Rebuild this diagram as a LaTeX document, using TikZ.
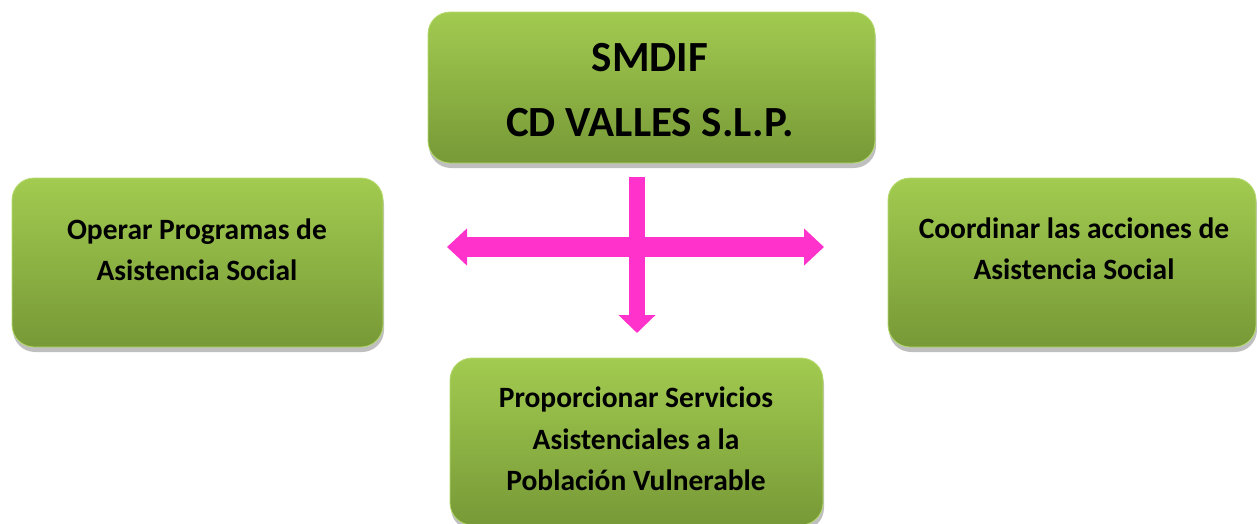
\documentclass[tikz,border=0pt]{standalone}
\usepackage{fontspec}
\setmainfont{Carlito}
\usetikzlibrary{arrows.meta,shadows}
\definecolor{gtop}{HTML}{A2CB50}
\definecolor{gbot}{HTML}{779937}
\definecolor{gedge}{HTML}{B5DA6E}
\definecolor{pinkarrow}{HTML}{FF33CC}
\tikzset{
  box/.style={rounded corners=22pt, top color=gtop, bottom color=gbot,
    draw=gedge, line width=0.8pt, inner sep=0pt,
    drop shadow={shadow xshift=1pt, shadow yshift=-5pt, opacity=0.25, fill=black}},
  txt/.style={font=\bfseries\fontsize{29.5}{41.5}\selectfont, align=center, text=black},
  bigtxt/.style={font=\bfseries\fontsize{43}{65}\selectfont, align=center, text=black},
  harrow/.style={draw=pinkarrow, line width=20pt,
    {Triangle[length=20pt,width=36pt]}-{Triangle[length=20pt,width=36pt]}},
  varrow/.style={draw=pinkarrow, line width=16pt, -{Triangle[length=18pt,width=36pt]}}
}
\begin{document}
\begin{tikzpicture}[x=1pt,y=-1pt]
\useasboundingbox (0,0) rectangle (1257,523);
% boxes
\node[box, minimum width=447pt, minimum height=151pt] (top) at (651.5,87.5) {};
\node[box, minimum width=371pt, minimum height=169pt] (left) at (197.5,262.5) {};
\node[box, minimum width=368pt, minimum height=169pt] (right) at (1072,262.5) {};
\node[box, minimum width=373pt, minimum height=167pt] (bottom) at (636.5,441.5) {};
% texts
\node[bigtxt] (toptext) at (650,90) {SMDIF\\CD VALLES S.L.P.};
\node[txt] (lefttext) at (197,250) {Operar Programas de\\Asistencia Social};
\node[txt] (righttext) at (1074,249) {Coordinar las acciones de\\Asistencia Social};
\node[txt] (bottomtext) at (636,439) {Proporcionar Servicios\\Asistenciales a la\\Población Vulnerable};
% connectors
\coordinate (hl) at (447,247);
\coordinate (hr) at (824,247);
\coordinate (vs) at (637,177);
\coordinate (ve) at (637,333);
\draw[harrow] (hl) -- (hr);
\draw[varrow] (vs) -- (ve);
\end{tikzpicture}
\end{document}
